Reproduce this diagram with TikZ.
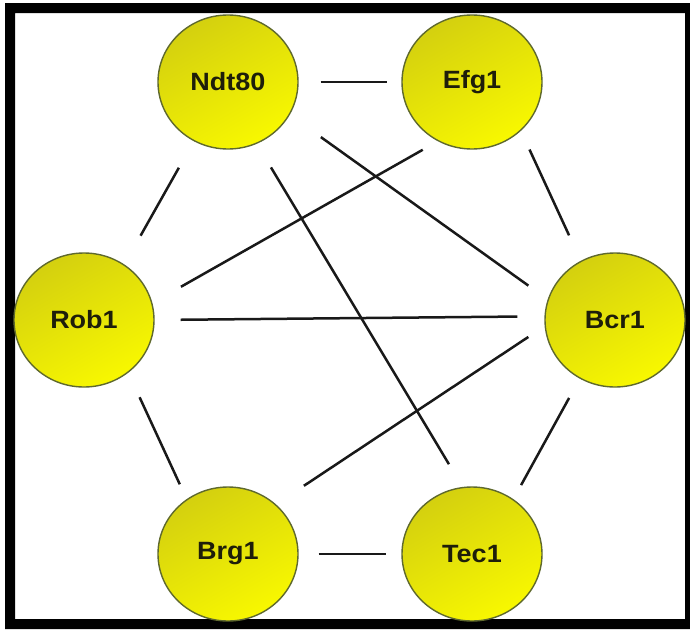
\documentclass[tikz,border=0pt]{standalone}
\usepackage{fontspec}
\setmainfont{Liberation Sans}
\newfontfamily\genefont[FakeStretch=1.08]{Liberation Sans Bold}
\usetikzlibrary{shapes.geometric}
\definecolor{nodeborder}{RGB}{95,105,45}
\definecolor{ytop}{RGB}{212,208,15}
\definecolor{ybot}{RGB}{248,248,0}
\definecolor{txt}{RGB}{30,30,10}
\definecolor{edgecol}{RGB}{25,25,25}
\begin{document}
\begin{tikzpicture}[x=1pt,y=-1pt,
  gene/.style={ellipse, minimum width=140pt, minimum height=134pt, inner sep=0pt,
    draw=nodeborder, line width=1.4pt, top color=ytop, bottom color=ybot,
    shading angle=30,
    text=txt, font=\genefont\fontsize{25}{25}\selectfont},
  link/.style 2 args={draw=edgecol, line width=2.5pt, shorten <=#1, shorten >=#2}]
\useasboundingbox (0,0) rectangle (690,629);
\fill[white] (0,0) rectangle (690,629);
\fill[black, even odd rule] (5,3) rectangle (690,629) (15,13) rectangle (685,619);
\node[gene] (ndt) at (228,82) {Ndt80};
\node[gene] (efg) at (472,82) {Efg1};
\node[gene] (rob) at (84,320) {Rob1};
\node[gene] (bcr) at (615,320) {Bcr1};
\node[gene] (brg) at (228,554) {Brg1};
\node[gene] (tec) at (472,554) {Tec1};
\draw[link={22pt}{14pt}] (ndt.0) -- (efg.180);
\draw[link={20pt}{15pt}] (brg.0) -- (tec.180);
\draw[link={20.5pt}{28pt}] (efg.-45) -- (bcr.120.4);
\draw[link={22pt}{16pt}] (bcr.-121.4) -- (tec.53.8);
\draw[link={27pt}{16.3pt}] (rob.-50.3) -- (brg.127.1);
\draw[link={33pt}{30.4pt}] (rob.54.3) -- (ndt.-120.1);
\draw[link={38.2pt}{23.7pt}] (ndt.-28.4) -- (bcr.163);
\draw[link={27.5pt}{26.5pt}] (ndt.-65.6) -- (tec.98.1);
\draw[link={17.3pt}{32.8pt}] (efg.-120.1) -- (rob.14.9);
\draw[link={26pt}{27pt}] (rob.0) -- (bcr.177.7);
\draw[link={19.5pt}{33.5pt}] (bcr.185.2) -- (brg.46.5);
\end{tikzpicture}
\end{document}
